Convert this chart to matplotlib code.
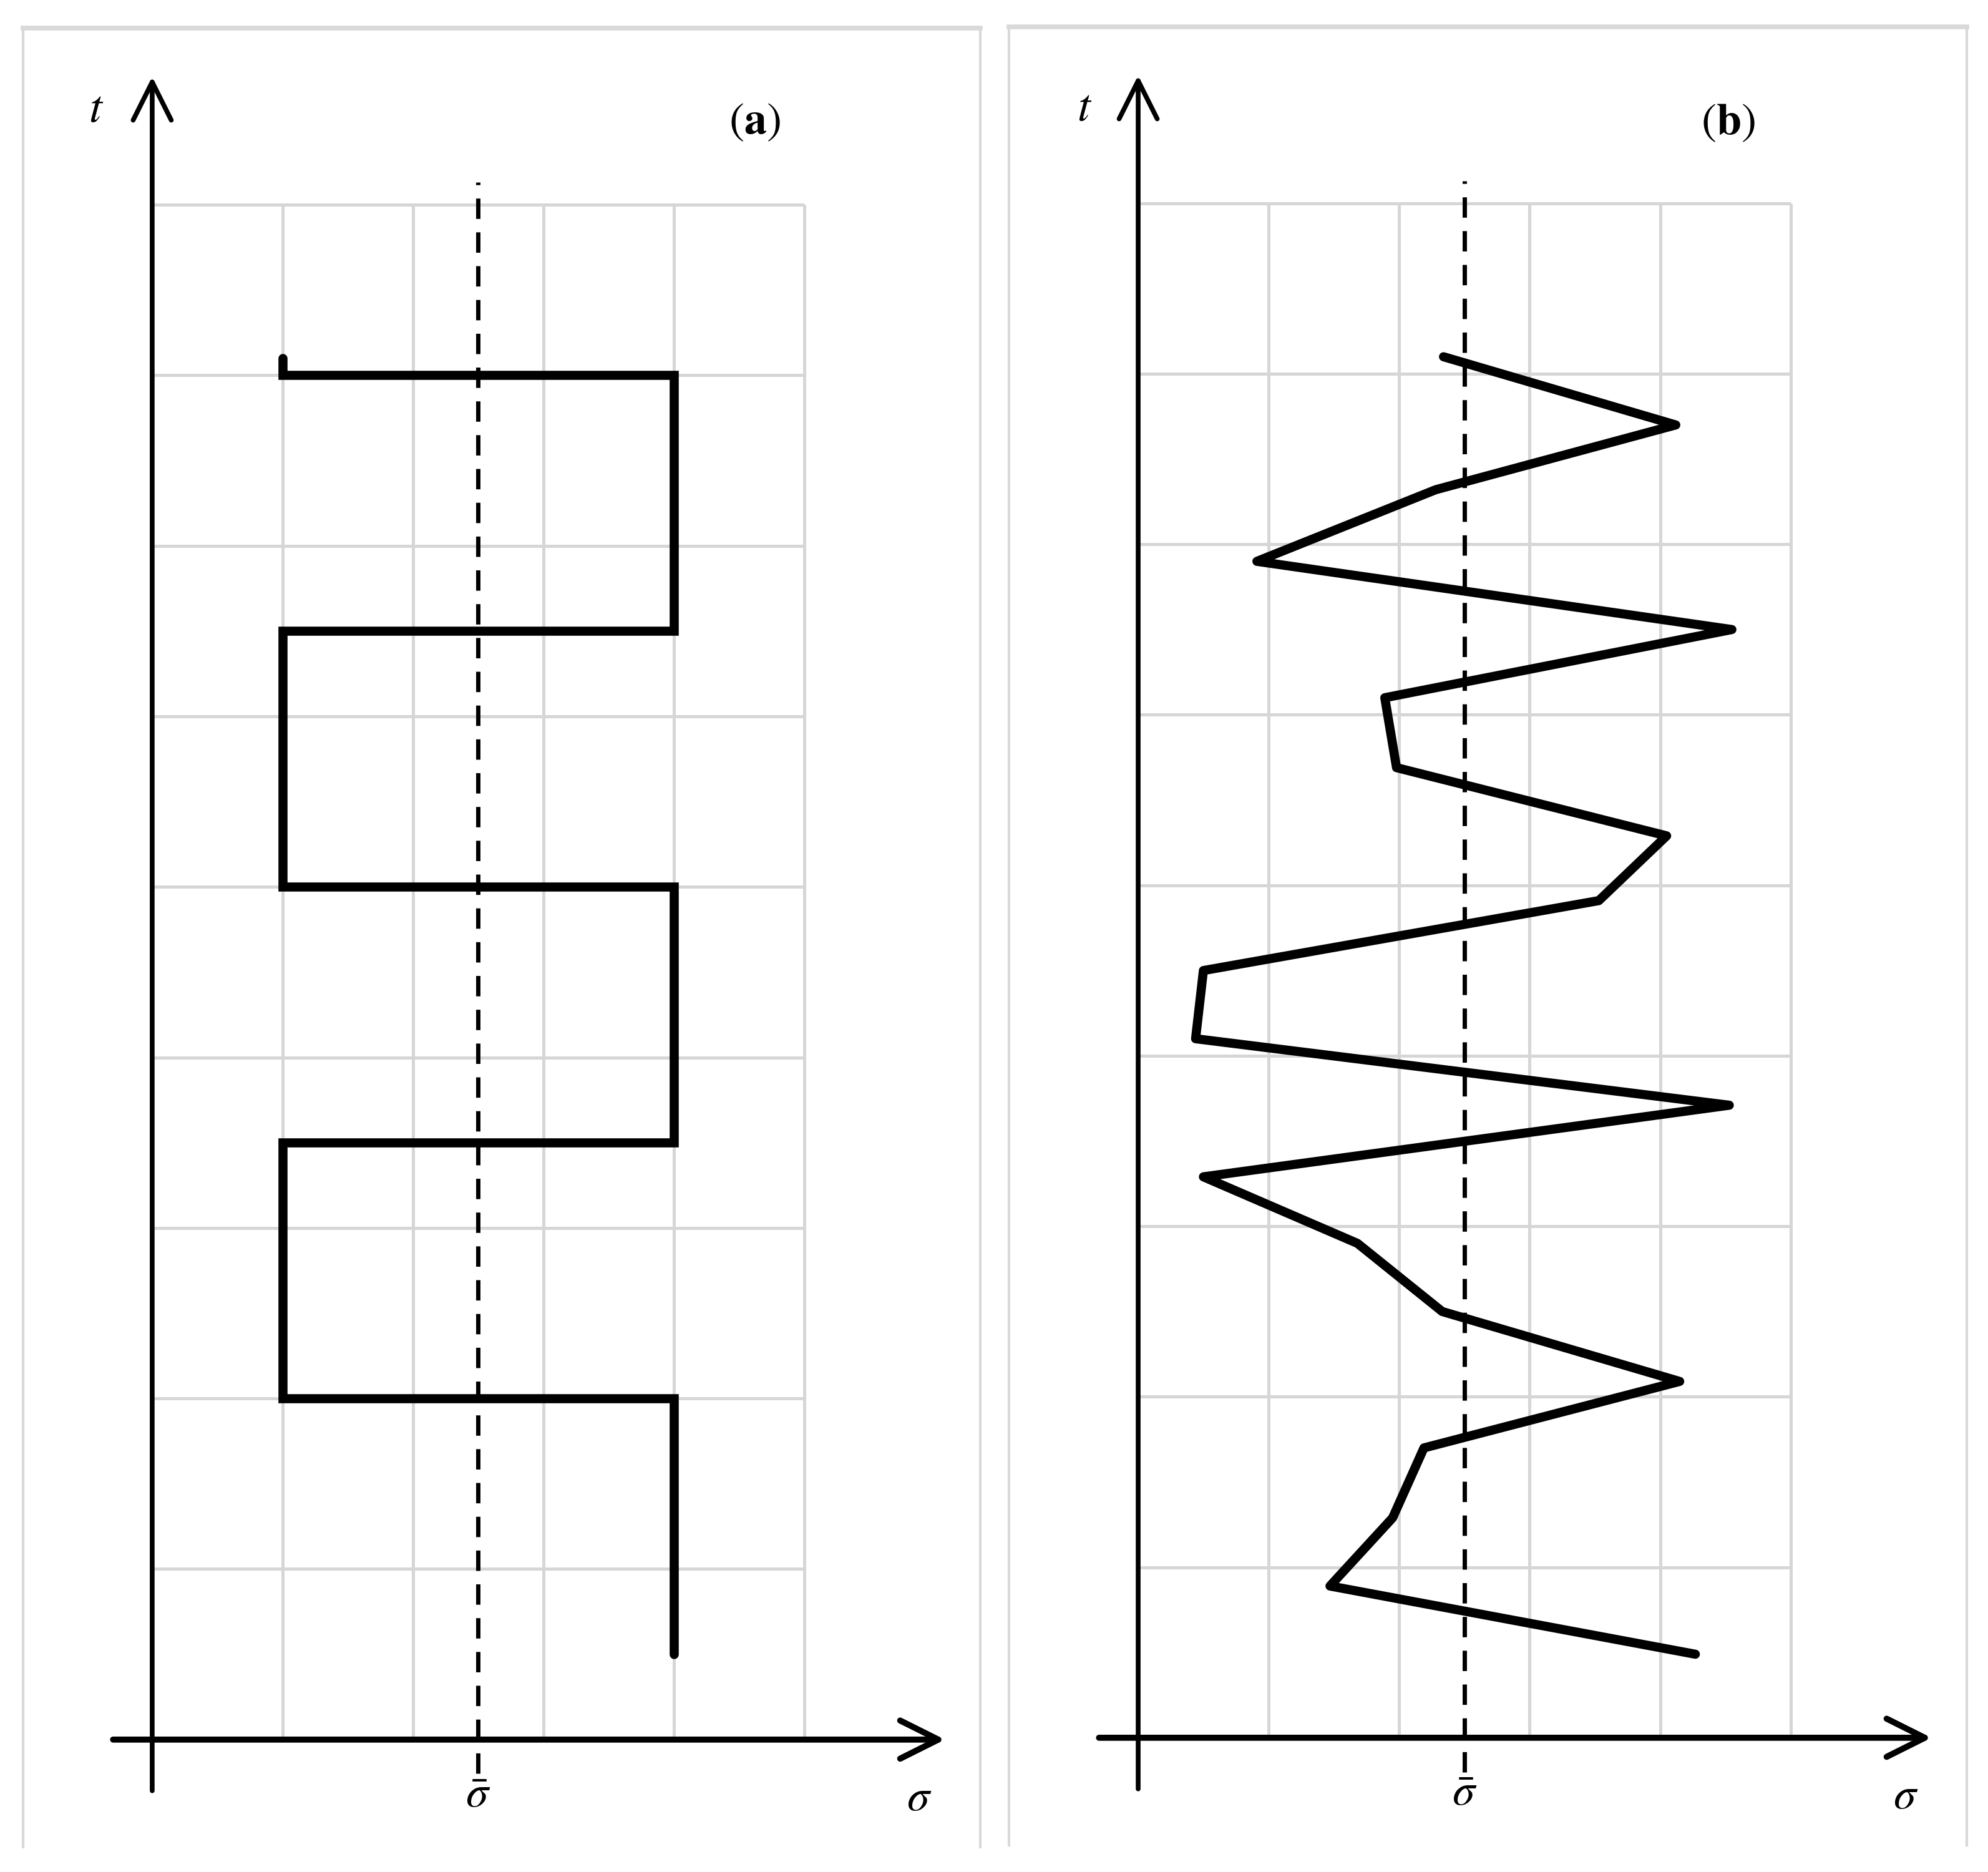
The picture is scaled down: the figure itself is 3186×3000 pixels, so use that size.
import matplotlib
matplotlib.use("Agg")
import matplotlib.pyplot as plt

plt.rcParams['mathtext.fontset'] = 'stix'
plt.rcParams['font.family'] = ['Liberation Serif', 'DejaVu Serif']

# ---------------- data (grid units: sigma columns, t rows) ----------------
grid_cols = [1, 2, 3, 4, 5]
grid_rows = [1, 2, 3, 4, 5, 6, 7, 8, 9]
sigma_mean = 2.5

# panel (a): square-wave stress history
a_sigma = [4, 4, 1, 1, 4, 4, 1, 1, 4, 4, 1, 1]
a_t = [0.5, 2.0, 2.0, 3.5, 3.5, 5.0, 5.0, 6.5, 6.5, 8.0, 8.0, 8.1]

# panel (b): random stress history
b_t = [0.49, 0.89, 1.29, 1.70, 2.09, 2.50, 2.90, 3.29, 3.71, 4.10,
       4.50, 4.91, 5.29, 5.69, 6.10, 6.50, 6.90, 7.32, 7.70, 8.10]
b_sigma = [4.27, 1.47, 1.95, 2.19, 4.15, 2.33, 1.68, 0.50, 4.53, 0.44,
           0.50, 3.53, 4.05, 1.98, 1.89, 4.55, 0.91, 2.28, 4.12, 2.34]

panel_labels = ['a', 'b']

# ---------------- figure ----------------
W, H = 3186, 3000
fig = plt.figure(figsize=(W / 100, H / 100), dpi=100)

panels = [
    dict(rect=[37 / W, 1 - 2960 / H, (1571 - 37) / W, (2960 - 45) / H],
         x=a_sigma, y=a_t, join='miter', lab=(4.62, 9.48), tpos=(-0.43, 9.55)),
    dict(rect=[1617 / W, 1 - 2957 / H, (3152 - 1617) / W, (2957 - 43) / H],
         x=b_sigma, y=b_t, join='round', lab=(4.52, 9.47), tpos=(-0.41, 9.55)),
]

grid_color = '#d6d6d6'
border_color = '#d9d9d9'

for p, lab in zip(panels, panel_labels):
    ax = fig.add_axes(p['rect'])
    ax.set_xlim(-0.99, 6.35)
    ax.set_ylim(-0.63, 10.035)
    ax.axis('off')

    # panel frame (no bottom edge)
    ax.plot([0, 0], [0, 1], transform=ax.transAxes, color=border_color,
            lw=3, clip_on=False, zorder=0)
    ax.plot([1, 1], [0, 1], transform=ax.transAxes, color=border_color,
            lw=3, clip_on=False, zorder=0)
    ax.plot([0, 1], [1, 1], transform=ax.transAxes, color=border_color,
            lw=5.5, clip_on=False, zorder=0)

    # grid
    ax.vlines(grid_cols, 0, max(grid_rows), color=grid_color, lw=3.6, zorder=1)
    ax.hlines(grid_rows, 0, max(grid_cols), color=grid_color, lw=3.6, zorder=1)

    # mean stress dashed line
    dl, = ax.plot([sigma_mean, sigma_mean], [-0.2, 9.13], color='black',
                  lw=5, zorder=2, solid_capstyle='butt')
    dl.set_dashes((4.7, 3.1))

    # axes with open arrow heads
    ax.annotate('', xy=(0, 9.75), xytext=(0, -0.30),
                arrowprops=dict(arrowstyle='->', lw=5.5, color='black',
                                mutation_scale=110, shrinkA=0, shrinkB=0),
                zorder=3)
    ax.annotate('', xy=(6.08, 0), xytext=(-0.30, 0),
                arrowprops=dict(arrowstyle='->', lw=7, color='black',
                                mutation_scale=110, shrinkA=0, shrinkB=0),
                zorder=3)

    # stress history
    ax.plot(p['x'], p['y'], color='black', lw=10.5, solid_capstyle='round',
            solid_joinstyle=p['join'], zorder=4)

    # labels
    ax.text(p['tpos'][0], p['tpos'][1], r'$t$', fontsize=54,
            ha='center', va='center')
    ax.text(p['lab'][0], p['lab'][1], r'$(\mathbf{' + lab + r'})$',
            fontsize=52, ha='center', va='center')
    ax.text(sigma_mean, -0.33, r'$\bar{\sigma}$', fontsize=52,
            ha='center', va='center')
    ax.text(5.88, -0.35, r'$\sigma$', fontsize=52, ha='center', va='center')

fig.savefig('out.png', dpi=100, facecolor='white')
